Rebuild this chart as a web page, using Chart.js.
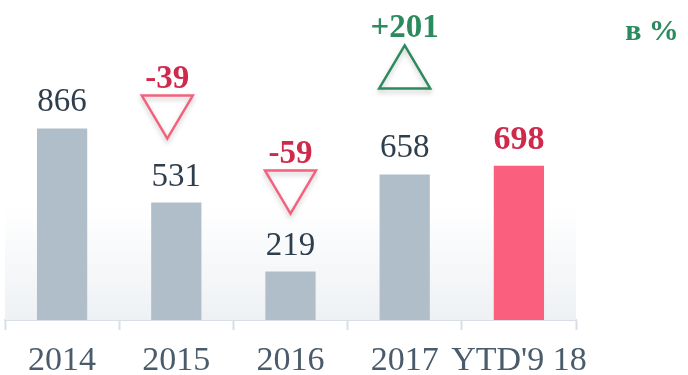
<!DOCTYPE html>
<html>
<head>
<meta charset="utf-8">
<script src="https://cdn.jsdelivr.net/npm/chart.js@4/dist/chart.umd.min.js"></script>
<style>
  html, body { margin: 0; padding: 0; background: #fff; }
  #wrap { width: 688px; height: 375px; }
</style>
</head>
<body>
<div id="wrap"><canvas id="volumeChart" width="688" height="375"></canvas></div>
<script>
// Data
const years = ['2014', '2015', '2016', '2017', "YTD'9 18"];
const values = [866, 531, 219, 658, 698];
const changes = [null, -39, -59, 201, null];
const unitLabel = 'в %';

const SERIF = '"Liberation Serif", "DejaVu Serif", serif';
const GREY_BAR = '#b0bec9';
const PINK_BAR = '#fa5f7e';
const RED_TEXT = '#cf2a4b';
const GREEN = '#2b8a5e';
const PINK_LINE = '#f3617d';

// marker placement per category (px): horizontal shift and gap above the bar top
const markerShift = [0, -9, 0, 0, 0];
const markerLift = [0, 64, 58, 86, 0];

// soft grey fade in the lower part of the plot
const backdrop = {
    id: 'backdrop',
    beforeDatasetsDraw(chart) {
        const { ctx, chartArea: a } = chart;
        const g = ctx.createLinearGradient(0, a.bottom - 115, 0, a.bottom);
        g.addColorStop(0, 'rgba(238,241,244,0)');
        g.addColorStop(1, '#eef1f4');
        ctx.save();
        ctx.fillStyle = g;
        ctx.fillRect(a.left, a.bottom - 115, a.right - a.left, 115);
        ctx.restore();
    }
};

// value labels above bars
const valueLabels = {
    id: 'valueLabels',
    afterDatasetsDraw(chart) {
        const { ctx } = chart;
        const meta = chart.getDatasetMeta(0);
        ctx.save();
        ctx.textAlign = 'center';
        ctx.textBaseline = 'alphabetic';
        meta.data.forEach((bar, i) => {
            const last = i === values.length - 1;
            ctx.font = (last ? 'bold 34px ' : '33px ') + SERIF;
            ctx.fillStyle = last ? RED_TEXT : '#2f3e4d';
            ctx.fillText(String(values[i]), bar.x, bar.y - 17);
        });
        ctx.restore();
    }
};

// change triangles with their numbers
const changeMarkers = {
    id: 'changeMarkers',
    afterDatasetsDraw(chart) {
        const { ctx } = chart;
        const meta = chart.getDatasetMeta(0);
        const w = 51, h = 43;
        ctx.save();
        changes.forEach((c, i) => {
            if (c === null) return;
            const bar = meta.data[i];
            const cx = bar.x + markerShift[i];
            const bottom = bar.y - markerLift[i];
            const top = bottom - h;
            const up = c > 0;
            const color = up ? GREEN : PINK_LINE;

            ctx.beginPath();
            if (up) {
                ctx.moveTo(cx, top);
                ctx.lineTo(cx + w / 2, bottom);
                ctx.lineTo(cx - w / 2, bottom);
            } else {
                ctx.moveTo(cx - w / 2, top);
                ctx.lineTo(cx + w / 2, top);
                ctx.lineTo(cx, bottom);
            }
            ctx.closePath();
            ctx.shadowColor = 'rgba(0,0,0,0.22)';
            ctx.shadowBlur = 5;
            ctx.shadowOffsetY = 3;
            ctx.lineWidth = 2.5;
            ctx.lineJoin = 'miter';
            ctx.strokeStyle = color;
            ctx.stroke();
            ctx.shadowColor = 'transparent';

            ctx.font = 'bold 33px ' + SERIF;
            ctx.textAlign = 'center';
            ctx.textBaseline = 'alphabetic';
            ctx.fillStyle = up ? GREEN : RED_TEXT;
            ctx.fillText((up ? '+' : '') + c, cx, top - 8);
        });

        ctx.font = 'bold 30px ' + SERIF;
        ctx.fillStyle = GREEN;
        ctx.textAlign = 'center';
        ctx.fillText(unitLabel, 652, 40);
        ctx.restore();
    }
};

new Chart(document.getElementById('volumeChart'), {
    type: 'bar',
    data: {
        labels: years,
        datasets: [{
            data: values,
            backgroundColor: values.map((v, i) => i === values.length - 1 ? PINK_BAR : GREY_BAR),
            borderWidth: 0,
            categoryPercentage: 1,
            barPercentage: 0.44
        }]
    },
    options: {
        responsive: false,
        devicePixelRatio: 1,
        animation: false,
        layout: { padding: { left: 5, right: 112, top: 0, bottom: 0 } },
        plugins: {
            legend: { display: false },
            tooltip: { enabled: false }
        },
        scales: {
            x: {
                grid: {
                    display: true,
                    offset: true,
                    drawOnChartArea: false,
                    drawTicks: true,
                    tickLength: 10,
                    tickWidth: 2,
                    tickColor: '#d9dfe5'
                },
                border: { display: true, color: '#d9dfe5', width: 2 },
                ticks: {
                    color: '#4a5c6c',
                    padding: 11,
                    autoSkip: false,
                    maxRotation: 0,
                    minRotation: 0,
                    font: { family: SERIF, size: 34 }
                },
                afterFit(scale) {
                    scale.height = 55;
                    scale.paddingLeft = 0;
                    scale.paddingRight = 0;
                }
            },
            y: {
                display: false,
                min: 0,
                max: 1447
            }
        }
    },
    plugins: [backdrop, valueLabels, changeMarkers]
});
</script>
</body>
</html>
